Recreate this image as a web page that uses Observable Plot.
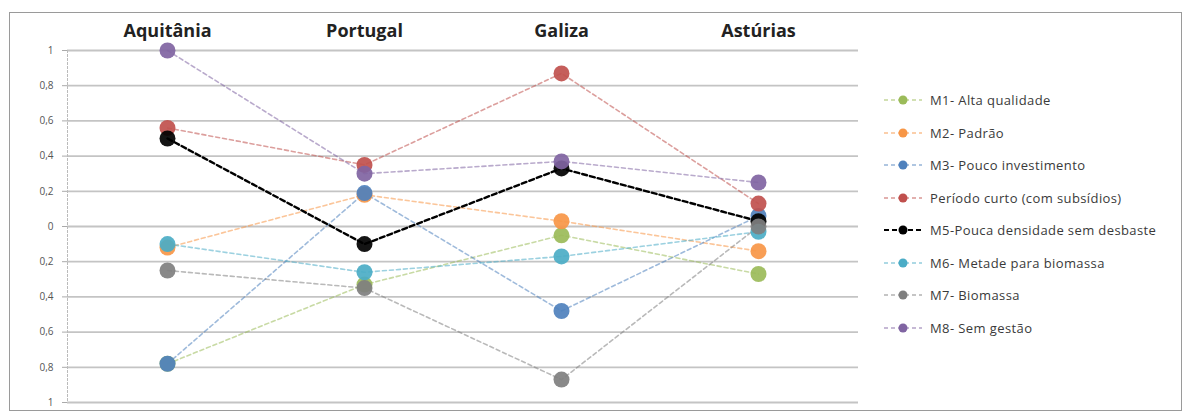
<!DOCTYPE html>
<html><head><meta charset="utf-8">
<script src="https://cdn.jsdelivr.net/npm/d3@7"></script>
<script src="https://cdn.jsdelivr.net/npm/@observablehq/plot@0.6"></script>
<style>
body{margin:0;background:#fff;font-family:"Open Sans",sans-serif;width:1190px;height:414px;overflow:hidden;position:relative;}
#frame{position:absolute;left:9px;top:12px;width:1173px;height:399px;border:1.5px solid #9a9a9a;box-sizing:border-box;}
#chart{position:absolute;left:0;top:0;}
#legend{position:absolute;left:882px;top:84px;}
.row{display:flex;align-items:center;height:32.5px;}
.row span{font-size:13px;letter-spacing:0.4px;color:#3a3a3a;margin-left:6px;white-space:nowrap;}
</style></head>
<body>
<div id="frame"></div>
<div id="chart"></div>
<div id="legend"></div>
<script>
const regions = ["Aquitânia", "Portugal", "Galiza", "Astúrias"];
const seriesNames = ["M1- Alta qualidade", "M2- Padrão", "M3- Pouco investimento", "Período curto (com subsídios)", "M5-Pouca densidade sem desbaste", "M6- Metade para biomassa", "M7- Biomassa", "M8- Sem gestão"];
const seriesColors = ["#9BBB59", "#F79646", "#4F81BD", "#C0504D", "#000000", "#4BACC6", "#7F7F7F", "#8064A2"];
const m1 = [-0.78, -0.33, -0.05, -0.27];
const m2 = [-0.12, 0.18, 0.03, -0.14];
const m3 = [-0.78, 0.19, -0.48, 0.06];
const periodoCurto = [0.56, 0.35, 0.87, 0.13];
const m5 = [0.50, -0.10, 0.33, 0.03];
const m6 = [-0.10, -0.26, -0.17, -0.03];
const m7 = [-0.25, -0.35, -0.87, 0.0];
const m8 = [1.00, 0.30, 0.37, 0.25];
const yTicks = [-1, -0.8, -0.6, -0.4, -0.2, 0, 0.2, 0.4, 0.6, 0.8, 1];

const allValues = [m1, m2, m3, periodoCurto, m5, m6, m7, m8];
const data = [];
allValues.forEach((vals, i) => vals.forEach((v, j) => data.push({series: seriesNames[i], region: regions[j], value: v, idx: i})));
const black = seriesNames[4];
const fmt = d => { const a = Math.abs(d); return a === 0 ? "0" : a === 1 ? "1" : String(Math.round(a*10)/10).replace(".", ","); };

const chart = Plot.plot({
  width: 870, height: 414,
  marginLeft: 67, marginRight: 12, marginTop: 50, marginBottom: 12,
  style: {fontFamily: "Open Sans, sans-serif", background: "transparent"},
  x: {type: "point", domain: regions, padding: 0.5},
  y: {domain: [-1, 1]},
  color: {domain: seriesNames, range: seriesColors},
  marks: [
    Plot.gridY(yTicks, {stroke: "#c4c4c4", strokeWidth: 1.8, strokeOpacity: 1}),
    Plot.frame({anchor: "left", stroke: "#bbb", strokeDasharray: "2,2"}),
    Plot.axisY({ticks: yTicks, tickFormat: fmt, tickSize: 5, tickPadding: 9, fontSize: 10, fill: "#555", stroke: "#aaa", label: null}),
    Plot.axisX({anchor: "top", tickSize: 0, tickPadding: 14, fontSize: 18, fontWeight: "bold", fill: "#222", label: null}),
    Plot.line(data.filter(d => d.series !== black), {x: "region", y: "value", z: "series", stroke: "series", strokeWidth: 1.6, strokeDasharray: "4,3", strokeOpacity: 0.55}),
    Plot.line(data.filter(d => d.series === black), {x: "region", y: "value", z: "series", stroke: "series", strokeWidth: 2.4, strokeDasharray: "5,3"}),
    Plot.dot(data, {x: "region", y: "value", fill: "series", r: 8, fillOpacity: 0.92, sort: {channel: "idx"}})
  ]
});
document.getElementById("chart").appendChild(chart);

const legend = document.getElementById("legend");
seriesNames.forEach((name, i) => {
  const row = document.createElement("div");
  row.className = "row";
  const c = seriesColors[i];
  const bl = i === 4;
  row.innerHTML = `<svg width="42" height="14"><line x1="2" y1="7" x2="40" y2="7" stroke="${c}" stroke-width="${bl?2:1.5}" stroke-dasharray="${bl?'5,3':'4,3'}" stroke-opacity="${bl?1:0.6}"/><circle cx="21" cy="7" r="4.5" fill="${c}"/></svg><span>${name}</span>`;
  legend.appendChild(row);
});
</script>
</body></html>
